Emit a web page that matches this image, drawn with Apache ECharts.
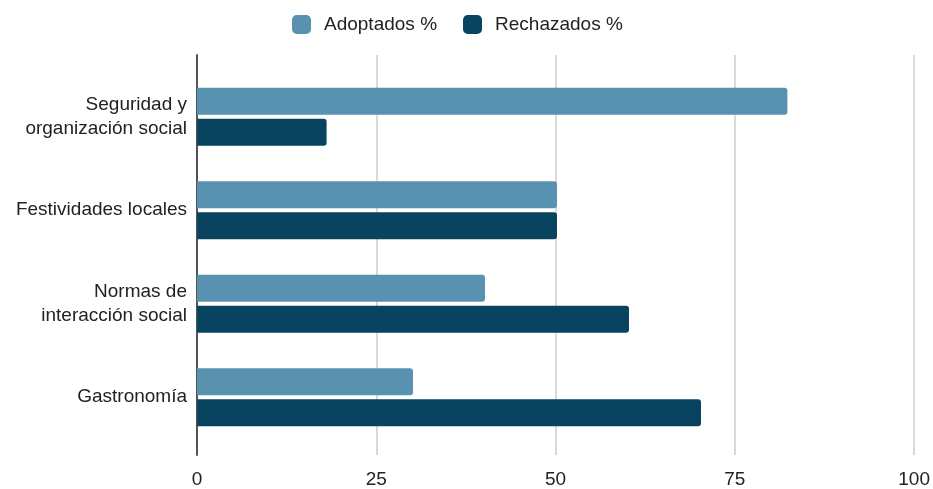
<!DOCTYPE html>
<html><head><meta charset="utf-8">
<script src="https://cdn.jsdelivr.net/npm/echarts@6/dist/echarts.min.js"></script>
<style>html,body{margin:0;padding:0;background:#fff}#c{width:933px;height:489px}</style>
</head><body><div id="c"></div>
<script>
const categories = ["Seguridad y\norganización social", "Festividades locales", "Normas de\ninteracción social", "Gastronomía"];
const adoptados = [82, 50, 40, 30];
const rechazados = [18, 50, 60, 70];
const seriesNames = ["Adoptados %", "Rechazados %"];
const xTicks = [0, 25, 50, 75, 100];

const chart = echarts.init(document.getElementById('c'), null, {renderer: 'canvas'});
const font = '"Liberation Sans", Arial, sans-serif';
chart.setOption({
  animation: false,
  legend: {
    top: 10, left: 287, itemWidth: 19, itemHeight: 19, itemGap: 26,
    textStyle: {fontFamily: font, fontSize: 19, color: '#222', padding: [0, 0, 0, 8]},
    icon: 'roundRect',
    data: seriesNames
  },
  grid: [
    {left: 197, right: 16, top: 55, bottom: 29, containLabel: false},
    {left: 197, right: 16, top: 70, bottom: 45, containLabel: false}
  ],
  xAxis: [
    {
      gridIndex: 0, type: 'value', min: 0, max: 100, interval: 25,
      axisLine: {show: false}, axisTick: {show: false},
      splitLine: {lineStyle: {color: '#cccccc', width: 1.5}},
      axisLabel: {fontFamily: font, fontSize: 19, color: '#222', margin: 15,
        formatter: v => xTicks.includes(v) ? String(v) : ''}
    },
    {gridIndex: 1, type: 'value', min: 0, max: 100, show: false}
  ],
  yAxis: [
    {
      gridIndex: 0, type: 'value', min: 0, max: 1,
      axisLine: {show: true, lineStyle: {color: '#555', width: 2}},
      axisTick: {show: false}, axisLabel: {show: false}, splitLine: {show: false}
    },
    {
      gridIndex: 1, type: 'category', inverse: true, data: categories,
      axisLine: {show: false}, axisTick: {show: false}, splitLine: {show: false},
      axisLabel: {fontFamily: font, fontSize: 19, color: '#222', margin: 10, lineHeight: 24, align: 'right',
        padding: [6, 0, 0, 0], backgroundColor: 'rgba(0,0,0,0)'}
    }
  ],
  series: [
    {name: seriesNames[0], type: 'bar', xAxisIndex: 1, yAxisIndex: 1, data: adoptados,
     barWidth: 27, barGap: '15%',
     itemStyle: {color: '#5892b0', borderRadius: [0, 3, 3, 0]}},
    {name: seriesNames[1], type: 'bar', xAxisIndex: 1, yAxisIndex: 1, data: rechazados,
     barWidth: 27,
     itemStyle: {color: '#08445f', borderRadius: [0, 3, 3, 0]}}
  ]
});
</script></body></html>
